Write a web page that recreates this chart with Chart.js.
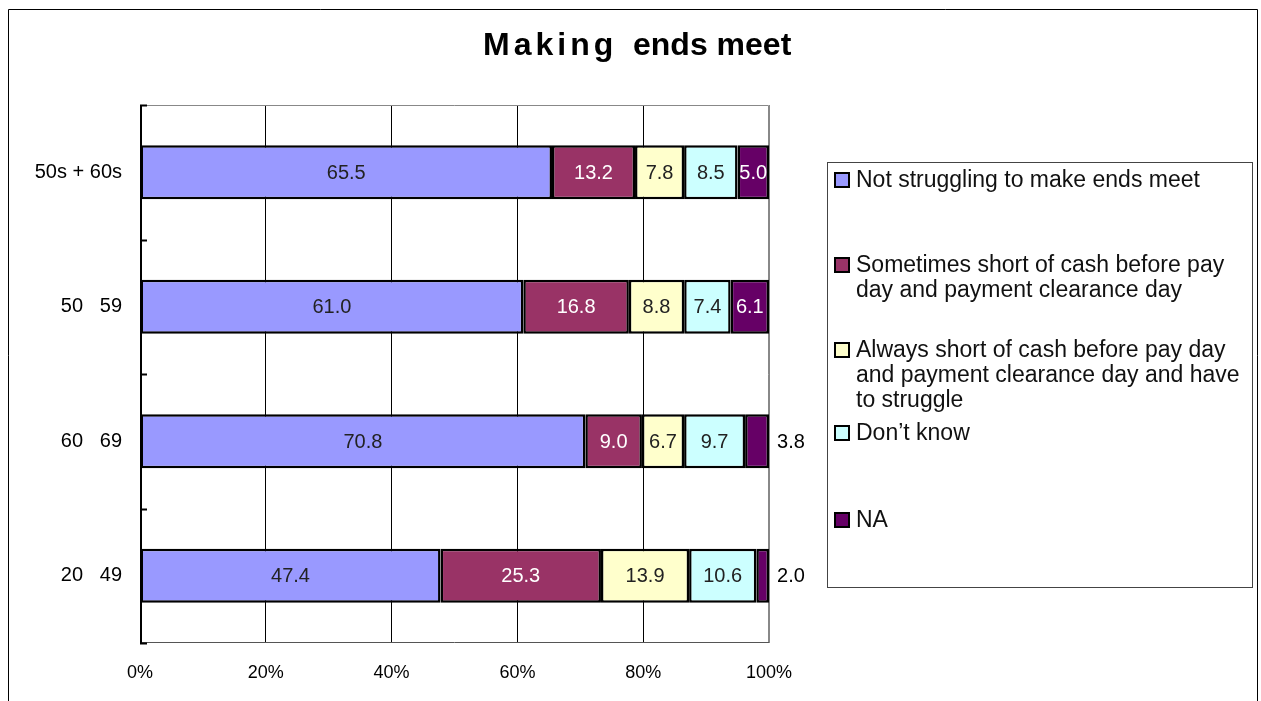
<!DOCTYPE html>
<html>
<head>
<meta charset="utf-8">
<title>Making ends meet</title>
<script src="https://cdn.jsdelivr.net/npm/chart.js@4.4.1/dist/chart.umd.min.js"></script>
<style>
  html, body { margin: 0; padding: 0; background: #fff; }
  canvas { display: block; }
</style>
</head>
<body>
<canvas id="endsChart" width="1261" height="701"></canvas>
<script>
// age groups, top to bottom
const categories = ['50s + 60s', '50   59', '60   69', '20   49'];

// answer shares (%) per age group
const notStruggling  = [65.5, 61.0, 70.8, 47.4];
const sometimesShort = [13.2, 16.8, 9.0, 25.3];
const alwaysShort    = [7.8, 8.8, 6.7, 13.9];
const dontKnow       = [8.5, 7.4, 9.7, 10.6];
const noAnswer       = [5.0, 6.1, 3.8, 2.0];

const seriesNames = [
  ['Not struggling to make ends meet'],
  ['Sometimes short of cash before pay', 'day and payment clearance day'],
  ['Always short of cash before pay day', 'and payment clearance day and have', 'to struggle'],
  ['Don\u2019t know'],
  ['NA']
];
const seriesColors = ['#9999ff', '#993366', '#ffffcc', '#ccffff', '#660066'];
const labelColors  = ['#222', '#fff', '#222', '#222', '#fff'];

const FONT = '"Liberation Sans", Arial, sans-serif';
const allSeries = [notStruggling, sometimesShort, alwaysShort, dontKnow, noAnswer];

// each row is scaled to 100% like a 100% stacked bar
const rowTotals = categories.map((c, i) => allSeries.reduce((s, arr) => s + arr[i], 0));

const datasets = allSeries.map((vals, k) => ({
  label: seriesNames[k].join(' '),
  data: vals.map((v, i) => v / rowTotals[i] * 100),
  rawValues: vals,
  backgroundColor: seriesColors[k],
  borderColor: '#000',
  borderWidth: 2.5,
  borderSkipped: false,
  barPercentage: 0.4,
  categoryPercentage: 1
}));

// white background, outer frame and title
const framePlugin = {
  id: 'frame',
  beforeDraw(chart) {
    const ctx = chart.ctx;
    ctx.save();
    ctx.fillStyle = '#fff';
    ctx.fillRect(0, 0, chart.width, chart.height);
    ctx.strokeStyle = '#000';
    ctx.lineWidth = 1;
    ctx.beginPath();
    ctx.moveTo(8.5, chart.height);
    ctx.lineTo(8.5, 9.5);
    ctx.lineTo(1257.5, 9.5);
    ctx.lineTo(1257.5, chart.height);
    ctx.stroke();

    ctx.fillStyle = '#000';
    ctx.textBaseline = 'middle';
    ctx.textAlign = 'left';
    ctx.font = 'bold 32px ' + FONT;
    ctx.letterSpacing = '4px';
    ctx.fillText('Making', 483, 46);
    ctx.letterSpacing = '0px';
    ctx.fillText('ends meet', 633, 46);
    ctx.restore();
  }
};

// plot border, category ticks, value labels
const barLabelPlugin = {
  id: 'barLabels',
  beforeDatasetsDraw(chart) {
    const { ctx, chartArea: a, scales } = chart;
    ctx.save();
    ctx.strokeStyle = '#888';
    ctx.lineWidth = 1;
    ctx.beginPath();
    ctx.moveTo(a.left, a.top + 0.5);
    ctx.lineTo(a.right - 0.5, a.top + 0.5);
    ctx.lineTo(a.right - 0.5, a.bottom);
    ctx.stroke();
    ctx.strokeStyle = '#555';
    ctx.beginPath();
    ctx.moveTo(a.left, a.bottom - 0.5);
    ctx.lineTo(a.right, a.bottom - 0.5);
    ctx.stroke();
    ctx.strokeStyle = '#000';
    ctx.lineWidth = 2;
    ctx.beginPath();
    ctx.moveTo(a.left + 1, a.top);
    ctx.lineTo(a.left + 1, a.bottom);
    for (let i = 0; i <= categories.length; i++) {
      const y = Math.round(scales.y.getPixelForValue(i - 0.5)) + 0.5;
      ctx.moveTo(a.left, y);
      ctx.lineTo(a.left + 7, y);
    }
    ctx.stroke();
    ctx.restore();
  },
  afterDatasetsDraw(chart) {
    const ctx = chart.ctx;
    ctx.save();
    ctx.font = '20px ' + FONT;
    ctx.textAlign = 'center';
    ctx.textBaseline = 'middle';
    chart.data.datasets.forEach((ds, k) => {
      chart.getDatasetMeta(k).data.forEach((bar, i) => {
        const v = ds.rawValues[i];
        const { x, y, base } = bar.getProps(['x', 'y', 'base'], true);
        let cx = (x + base) / 2;
        ctx.fillStyle = labelColors[k];
        if (x - base < 28) {
          cx = x + 22;
          ctx.fillStyle = '#000';
        }
        ctx.fillText(v.toFixed(1), cx, y + 1);
      });
    });
    ctx.restore();
  }
};

// boxed legend on the right
const legendPlugin = {
  id: 'boxLegend',
  afterDraw(chart) {
    const ctx = chart.ctx;
    ctx.save();
    ctx.strokeStyle = '#444';
    ctx.lineWidth = 1;
    ctx.strokeRect(827.5, 162.5, 425, 425);
    const rowY = [180, 265, 350, 433, 520];
    ctx.font = '23px ' + FONT;
    ctx.textBaseline = 'middle';
    ctx.textAlign = 'left';
    seriesNames.forEach((lines, k) => {
      ctx.fillStyle = seriesColors[k];
      ctx.fillRect(835, rowY[k] - 7, 14, 14);
      ctx.strokeStyle = '#000';
      ctx.lineWidth = 2;
      ctx.strokeRect(835, rowY[k] - 7, 14, 14);
      ctx.fillStyle = '#111';
      lines.forEach((t, j) => ctx.fillText(t, 856, rowY[k] + j * 25 + 1));
    });
    ctx.restore();
  }
};

new Chart(document.getElementById('endsChart'), {
  type: 'bar',
  data: { labels: categories, datasets: datasets },
  options: {
    indexAxis: 'y',
    responsive: false,
    animation: false,
    layout: { padding: { top: 105, right: 1261 - 769, left: 0, bottom: 0 } },
    plugins: {
      legend: { display: false },
      title: { display: false },
      tooltip: { enabled: false }
    },
    scales: {
      x: {
        stacked: true,
        min: 0,
        max: 100,
        ticks: {
          stepSize: 20,
          callback: v => v + '%',
          color: '#000',
          font: { family: FONT, size: 18 },
          padding: 19
        },
        grid: {
          color: c => (c.tick && c.tick.value === 100 ? '#888' : '#000'),
          lineWidth: 1,
          drawTicks: false
        },
        border: { display: false },
        afterFit: s => { s.height = 58; }
      },
      y: {
        stacked: true,
        ticks: { color: '#000', font: { family: FONT, size: 20 }, padding: 10 },
        grid: { display: false },
        border: { display: false },
        afterFit: s => { s.width = 140; }
      }
    }
  },
  plugins: [framePlugin, barLabelPlugin, legendPlugin]
});
</script>
</body>
</html>
